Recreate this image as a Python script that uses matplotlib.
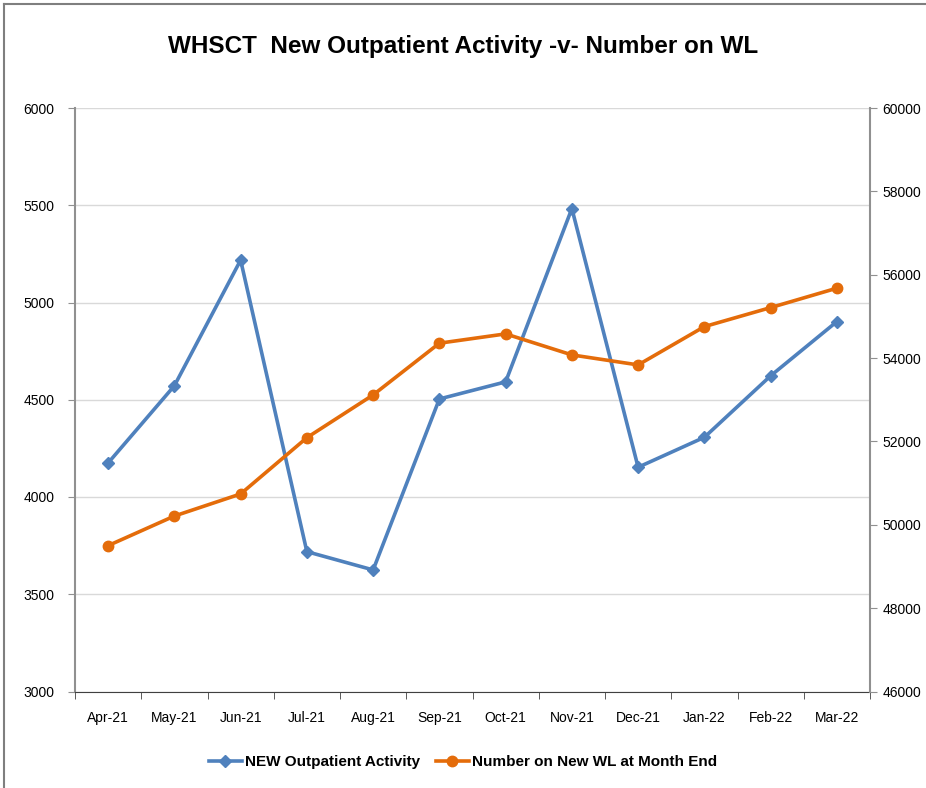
import numpy as np
import matplotlib.pyplot as plt
from matplotlib.lines import Line2D

months = ['Apr-21', 'May-21', 'Jun-21', 'Jul-21', 'Aug-21', 'Sep-21',
          'Oct-21', 'Nov-21', 'Dec-21', 'Jan-22', 'Feb-22', 'Mar-22']
new_activity = [4175, 4572, 5218, 3719, 3625, 4504, 4592, 5483, 4153, 4307, 4623, 4902]
wl_month_end = [49500, 50210, 50740, 52090, 53116, 54357, 54580, 54076, 53836, 54755, 55211, 55677]

plt.rcParams['font.family'] = ['Liberation Sans', 'DejaVu Sans']

blue = '#4F81BD'
orange = '#E46C0A'

fig = plt.figure(figsize=(9.26, 7.88), dpi=100)
ax = fig.add_axes([75 / 926, 1 - 691.5 / 788, (870 - 75) / 926, (691.5 - 108) / 788])
ax2 = ax.twinx()

x = np.arange(len(months))
ax.plot(x, new_activity, color=blue, lw=2.6, marker='D', ms=6, label='NEW Outpatient Activity')
ax2.plot(x, wl_month_end, color=orange, lw=2.6, marker='o', ms=7.5, label='Number on New WL at Month End')

ax.set_xlim(-0.5, len(months) - 0.5)
ax.set_ylim(3000, 6000)
ax2.set_ylim(46000, 60000)
ax.set_yticks(np.arange(3000, 6001, 500))
ax2.set_yticks(np.arange(46000, 60001, 2000))
ax.set_xticks(x)
ax.set_xticklabels(months)
ax.set_xticks(np.arange(-0.5, len(months)), minor=True)
ax.tick_params(axis='x', which='major', length=0, pad=14, labelsize=10)
ax.tick_params(axis='x', which='minor', length=5, color='#404040')
ax.tick_params(axis='y', length=5, color='#909090', labelsize=10, pad=10)
ax2.tick_params(axis='y', length=5, color='#909090', labelsize=10, pad=4)

ax.grid(axis='y', color='#d9d9d9', lw=1)
ax.set_axisbelow(True)
ax.spines['top'].set_visible(False)
ax2.spines['top'].set_visible(False)
ax.spines['left'].set_color('#909090')
ax2.spines['right'].set_color('#909090')
ax2.spines['left'].set_visible(False)
ax.spines['right'].set_visible(False)
ax.spines['bottom'].set_color('#404040')
ax2.spines['bottom'].set_visible(False)
ax.spines['left'].set_linewidth(1.5)
ax2.spines['right'].set_linewidth(1.5)

fig.text(0.5, 1 - 47 / 788, 'WHSCT  New Outpatient Activity -v- Number on WL',
         ha='center', va='center', fontsize=17.5, fontweight='bold')

h1, l1 = ax.get_legend_handles_labels()
h2, l2 = ax2.get_legend_handles_labels()
fig.legend(h1 + h2, l1 + l2, loc='center', bbox_to_anchor=(0.5, 1 - 762 / 788),
           ncol=2, frameon=False, prop={'weight': 'bold', 'size': 11},
           handlelength=2.2, handletextpad=0.2, columnspacing=1.0)

# outer frame
fig.add_artist(Line2D([4 / 926, 4 / 926], [0, 1 - 4 / 788], color='#7f7f7f', lw=1.5, transform=fig.transFigure))
fig.add_artist(Line2D([4 / 926, 1], [1 - 4 / 788, 1 - 4 / 788], color='#7f7f7f', lw=1.5, transform=fig.transFigure))

plt.savefig('out.png', dpi=100)
